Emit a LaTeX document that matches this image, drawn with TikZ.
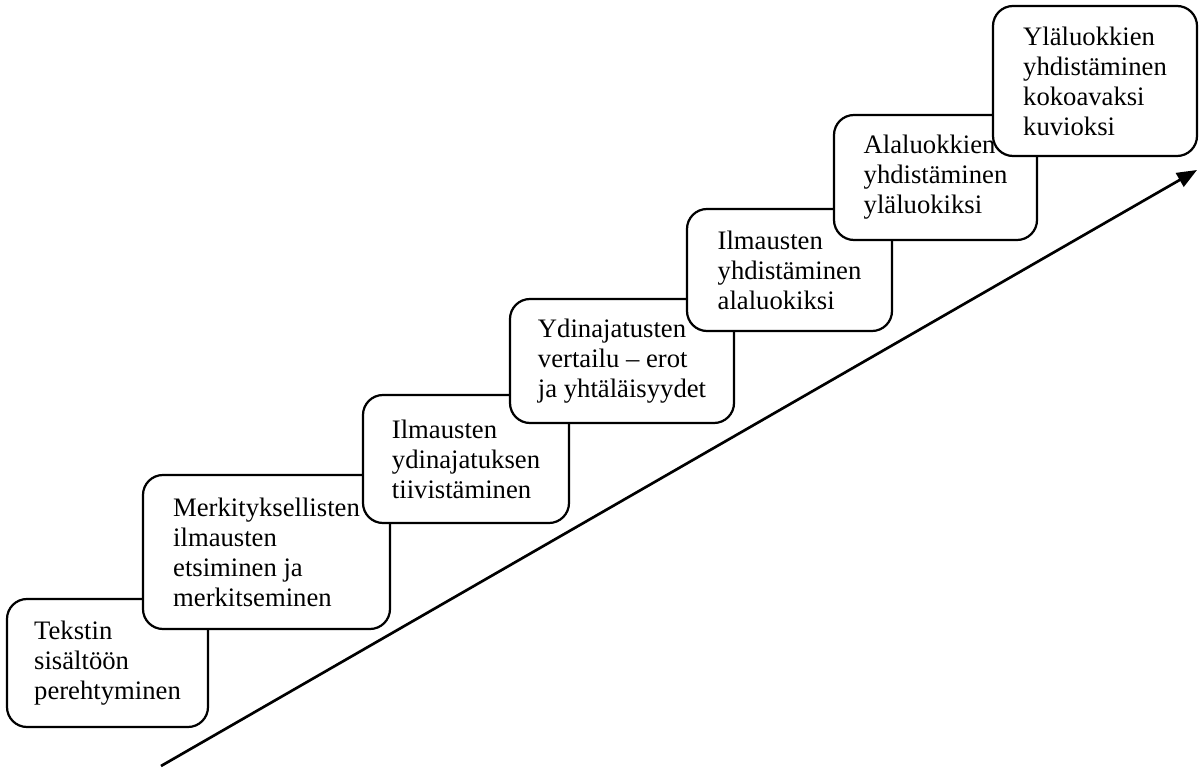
\documentclass[tikz,border=0pt]{standalone}
\usepackage{fontspec}
\setmainfont{Liberation Serif}
\usetikzlibrary{arrows.meta}
\begin{document}
\begin{tikzpicture}[x=0.45pt,y=-0.45pt,
  stepbox/.style={draw=black, fill=white, line width=1pt, rounded corners=9pt,
    anchor=north west, outer sep=0pt, inner sep=0pt, align=left,
    font=\fontsize{12pt}{13.5pt}\selectfont},
  trend/.style={line width=1.2pt, -{Triangle[length=9pt,width=7pt]}}]
\useasboundingbox (0,0) rectangle (1199,769);
\node[stepbox, minimum width=90.45pt, minimum height=57.6pt] (b1) at (7,599)
  {Tekstin\\sisältöön\\perehtyminen};
\node[stepbox, minimum width=111.15pt, minimum height=69.3pt] (b2) at (143,475)
  {Merkityksellisten\\ilmausten\\etsiminen ja\\merkitseminen};
\node[stepbox, minimum width=92.7pt, minimum height=57.6pt] (b3) at (363,395)
  {Ilmausten\\ydinajatuksen\\tiivistäminen};
\node[stepbox, minimum width=100.8pt, minimum height=55.8pt] (b4) at (510,299)
  {Ydinajatusten\\vertailu -- erot\\ja yhtäläisyydet};
\node[stepbox, minimum width=92.25pt, minimum height=54.9pt] (b5) at (687,209)
  {Ilmausten\\yhdistäminen\\alaluokiksi};
\node[stepbox, minimum width=91.35pt, minimum height=56.25pt] (b6) at (834,115)
  {Alaluokkien\\yhdistäminen\\yläluokiksi};
\node[stepbox, minimum width=91.8pt, minimum height=67.5pt] (b7) at (993,6)
  {Yläluokkien\\yhdistäminen\\kokoavaksi\\kuvioksi};
\coordinate (astart) at (161,766);
\coordinate (aend) at (1197,170);
\draw[trend] (astart) -- (aend);
\end{tikzpicture}
\end{document}
